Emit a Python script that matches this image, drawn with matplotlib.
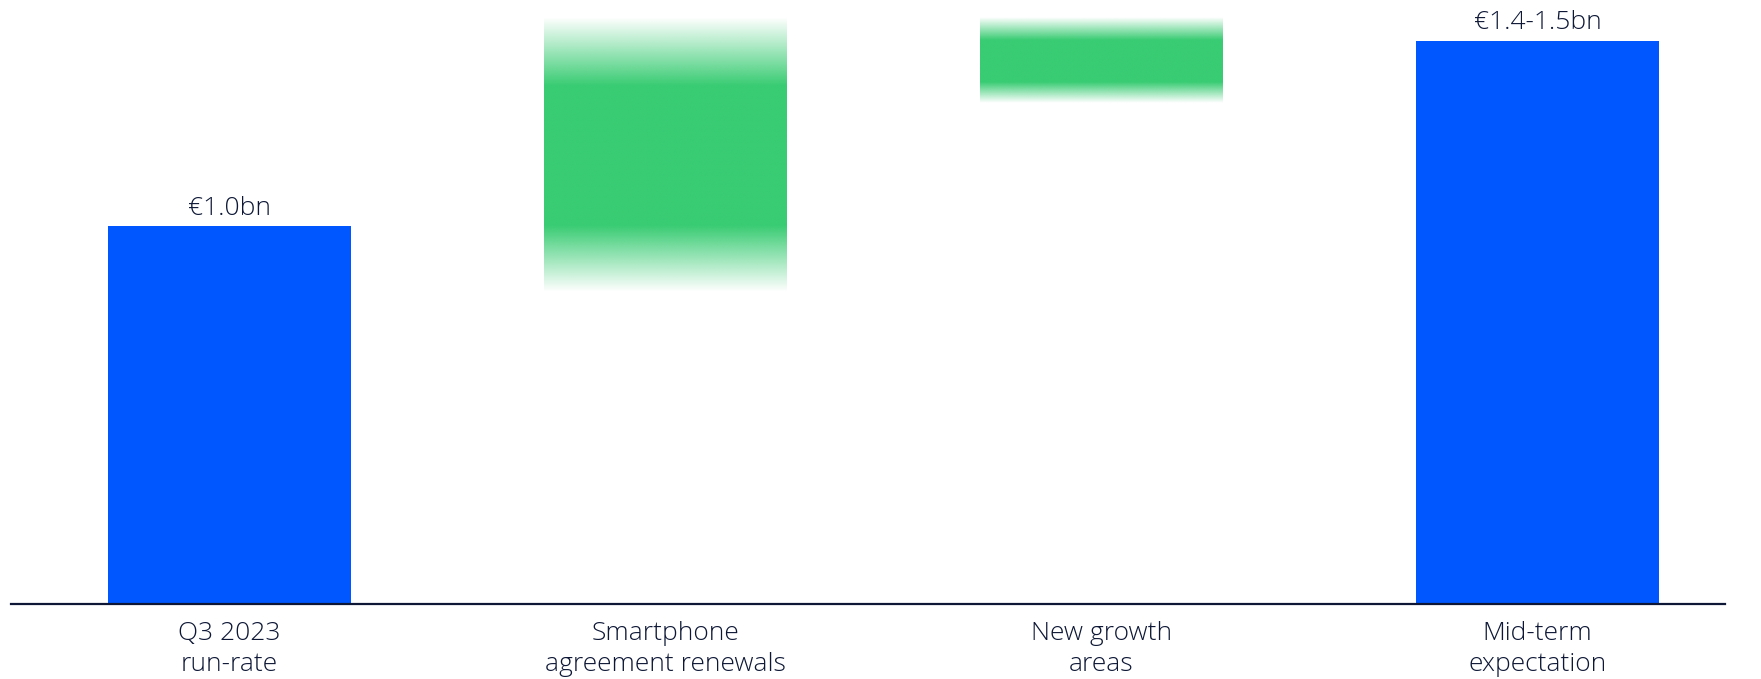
import numpy as np
import matplotlib.pyplot as plt

categories = ['Q3 2023\nrun-rate', 'Smartphone\nagreement renewals', 'New growth\nareas', 'Mid-term\nexpectation']
# totals (EUR bn)
totals = [1.0, None, None, 1.49]
total_labels = ['€1.0bn', None, None, '€1.4-1.5bn']
# increments: solid range and fuzzy (uncertainty) range
inc_low = [None, 1.0, 1.38, None]
inc_high = [None, 1.37, 1.49, None]
fade_low = [None, 0.825, 1.325, None]
fade_high = [None, 1.55, 1.55, None]

blue = '#0057FF'
green = '#39CC73'
navy = '#0E1836'

plt.rcParams['font.family'] = ['Open Sans', 'DejaVu Sans']

fig = plt.figure(figsize=(17.61, 6.79), dpi=100)
ax = fig.add_axes([0.00625, 0.1105, 0.9734, 0.8895])
x = np.arange(len(categories))
w = 0.557

for i in x:
    if totals[i] is not None:
        ax.bar(i, totals[i], width=w, color=blue, zorder=2)
        ax.text(i, totals[i] + 0.03, total_labels[i], ha='center', va='baseline',
                fontsize=19, color=navy, fontweight='light')
    else:
        ys = np.linspace(fade_low[i], fade_high[i], 400)
        a = np.ones_like(ys)
        lo = ys < inc_low[i]
        hi = ys > inc_high[i]
        a[lo] = (ys[lo] - fade_low[i]) / (inc_low[i] - fade_low[i])
        a[hi] = (fade_high[i] - ys[hi]) / (fade_high[i] - inc_high[i])
        rgba = np.zeros((len(ys), 1, 4))
        rgba[..., :3] = plt.matplotlib.colors.to_rgb(green)
        rgba[:, 0, 3] = a
        ax.imshow(rgba, extent=(i - w / 2, i + w / 2, fade_low[i], fade_high[i]),
                  origin='lower', aspect='auto', interpolation='bilinear', zorder=2)

ax.set_xlim(-0.5, 3.43)
ax.set_ylim(0, 1.598)
for s in ['top', 'right', 'left']:
    ax.spines[s].set_visible(False)
ax.spines['bottom'].set_color(navy)
ax.spines['bottom'].set_linewidth(1.6)
ax.set_yticks([])
ax.set_xticks(x)
ax.set_xticklabels(categories, fontsize=19, color=navy, fontweight='light', linespacing=1.33)
ax.tick_params(axis='x', length=0, pad=12)

fig.savefig('out.png', dpi=100)
